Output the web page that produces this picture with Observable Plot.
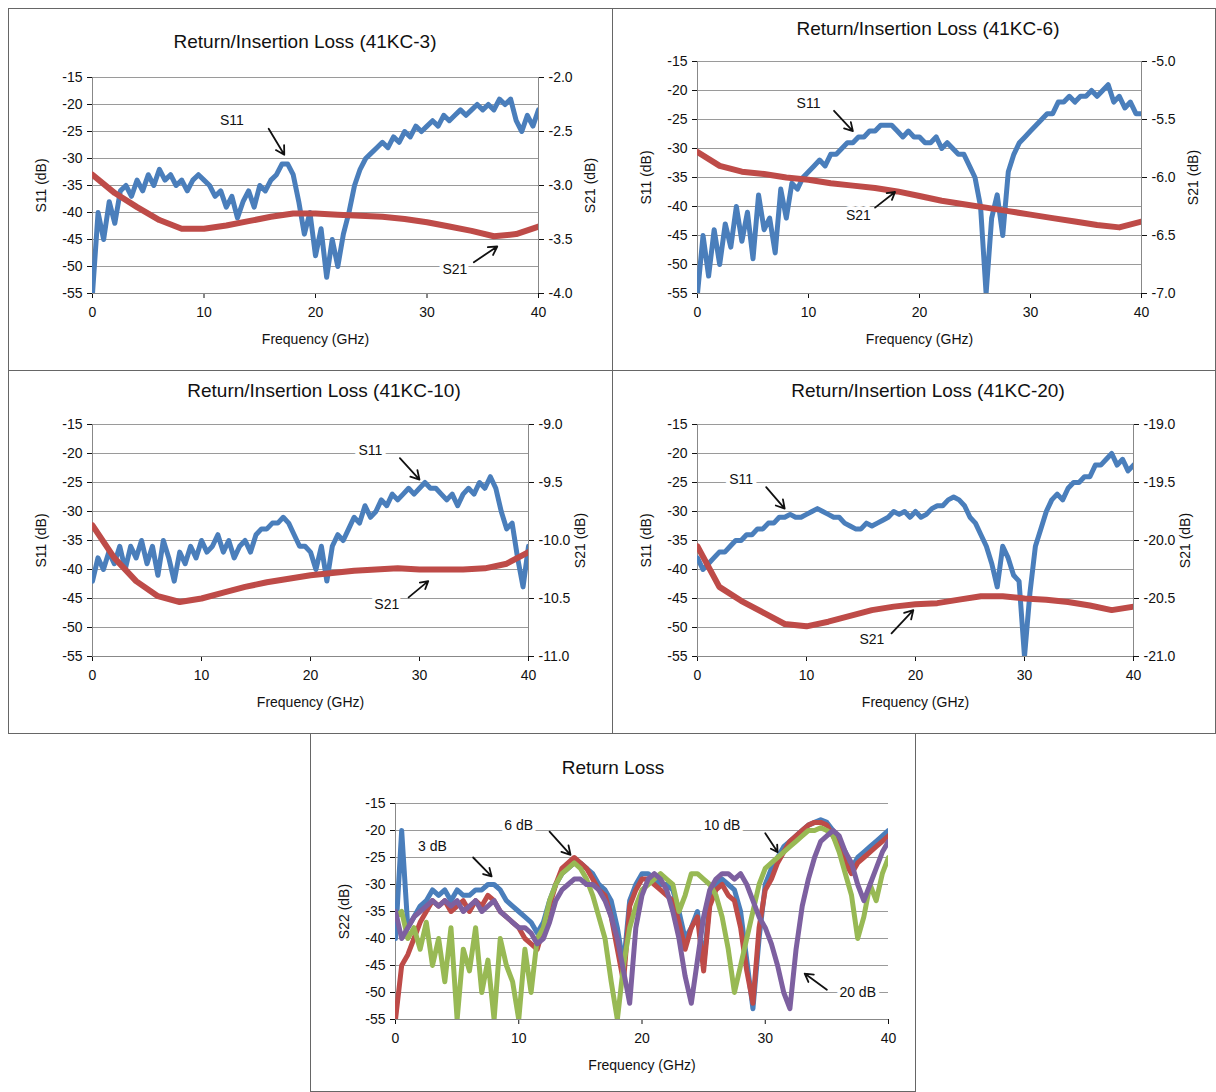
<!DOCTYPE html>
<html><head><meta charset="utf-8">
<script src="https://cdn.jsdelivr.net/npm/d3@7"></script>
<script src="https://cdn.jsdelivr.net/npm/@observablehq/plot@0.6"></script>
<style>
body{margin:0;background:#fff;font-family:"Liberation Sans",Arial,sans-serif;}
#root{position:relative;width:1216px;height:1092px;}
.panel{position:absolute;border:1.5px solid #666;box-sizing:border-box;}
.title{position:absolute;font-size:19px;color:#111;white-space:nowrap;transform:translate(-50%,-50%);}
.chart{position:absolute;}
.chart svg text{font-size:14px;}
</style></head><body><div id="root"></div>
<script>
// frequency grids
const freqFine = d3.range(0, 40.01, 0.5);
const freqCoarse = d3.range(0, 40.01, 2);

// 41KC-3
const s11_3 = [-55,-40,-45,-38,-42,-36,-35,-37,-34,-36,-33,-35,-32,-34,-33,-35,-34,-36,-34,-33,-34,-35,-37,-36,-39,-37,-41,-38,-36,-39,-35,-36,-34,-33,-31,-31,-33,-38,-44,-40,-48,-43,-52,-45,-50,-44,-40,-35,-32,-30,-29,-28,-27,-28,-26,-27,-25,-26,-24,-25,-24,-23,-24,-22,-23,-22,-21,-22,-21,-20,-21,-20,-21,-19,-20,-19,-23,-25,-22,-24,-21];
const s21_3 = [-2.9,-3.07,-3.2,-3.32,-3.4,-3.4,-3.37,-3.33,-3.29,-3.26,-3.26,-3.27,-3.28,-3.29,-3.31,-3.34,-3.38,-3.42,-3.47,-3.45,-3.38];
// 41KC-6
const s11_6 = [-55,-45,-52,-44,-50,-43,-47,-40,-46,-41,-49,-38,-44,-42,-48,-37,-42,-36,-37,-35,-34,-33,-32,-33,-31,-31,-30,-29,-29,-28,-28,-27,-27,-26,-26,-26,-27,-28,-27,-28,-28,-29,-29,-28,-30,-29,-30,-31,-31,-33,-35,-40,-55,-42,-38,-45,-34,-31,-29,-28,-27,-26,-25,-24,-24,-22,-22,-21,-22,-21,-21,-20,-21,-20,-19,-22,-21,-23,-22,-24,-24];
const s21_6 = [-5.78,-5.9,-5.95,-5.97,-6.0,-6.02,-6.05,-6.07,-6.09,-6.12,-6.16,-6.2,-6.23,-6.26,-6.29,-6.32,-6.35,-6.38,-6.41,-6.43,-6.38];
// 41KC-10
const s11_10 = [-42,-38,-40,-37,-39,-36,-40,-36,-38,-35,-39,-36,-41,-35,-38,-42,-37,-39,-36,-38,-35,-37,-36,-34,-37,-35,-38,-36,-35,-37,-34,-33,-33,-32,-32,-31,-32,-34,-36,-36,-37,-40,-36,-42,-36,-34,-35,-33,-31,-32,-29,-31,-30,-28,-29,-27,-28,-27,-26,-27,-26,-25,-26,-26,-27,-28,-27,-29,-27,-26,-27,-25,-26,-24,-26,-30,-33,-32,-38,-43,-36];
const s21_10 = [-9.87,-10.15,-10.35,-10.48,-10.53,-10.5,-10.45,-10.4,-10.36,-10.33,-10.3,-10.28,-10.26,-10.25,-10.24,-10.25,-10.25,-10.25,-10.24,-10.2,-10.1];
// 41KC-20
const s11_20 = [-38,-40,-39,-38,-37,-37,-36,-35,-35,-34,-34,-33,-33,-32,-32,-31,-31,-30.5,-31,-31,-30.5,-30,-29.5,-30,-30.5,-31,-31,-32,-32.5,-33,-33,-32,-32.5,-32,-31.5,-31,-30,-30.5,-30,-31,-30,-31,-30.5,-29.5,-29,-29,-28,-27.5,-28,-29,-31,-32,-34,-36,-39,-43,-36,-38,-41,-42,-55,-44,-36,-33,-30,-28,-27,-28,-26,-25,-25,-24,-24,-22,-22,-21,-20,-22,-21,-23,-22];
const s21_20 = [-20.05,-20.4,-20.52,-20.62,-20.72,-20.74,-20.7,-20.65,-20.6,-20.57,-20.55,-20.54,-20.51,-20.48,-20.48,-20.5,-20.51,-20.53,-20.56,-20.6,-20.57];
// S22 return loss
const s22_3 = [-40,-20,-38,-36,-34,-33,-31,-32,-31,-33,-31,-32,-32,-31,-31,-30,-30,-31,-33,-34,-35,-36,-37,-39,-37,-33,-30,-28,-27,-26,-26,-27,-28,-30,-31,-33,-38,-45,-33,-30,-28,-28,-29,-30,-30,-31,-35,-40,-38,-35,-45,-33,-30,-29,-30,-31,-35,-44,-53,-40,-30,-27,-25,-23,-22,-21,-20,-19,-18.5,-18,-18.5,-20,-22,-24,-27,-25,-24,-23,-22,-21,-20];
const s22_6 = [-55,-45,-43,-40,-37,-35,-33,-34,-33,-35,-34,-33,-35,-33,-34,-32,-33,-35,-36,-37,-38,-40,-41,-42,-38,-34,-30,-27,-26,-25,-26,-27,-29,-31,-32,-36,-42,-48,-34,-31,-29,-29,-30,-31,-32,-33,-37,-42,-38,-36,-46,-34,-31,-30,-32,-33,-38,-46,-52,-38,-31,-29,-26,-24,-22,-21,-20,-19,-18.5,-18.5,-19,-21,-23,-26,-28,-26,-25,-24,-23,-22,-21];
const s22_10 = [-36,-35,-40,-38,-42,-37,-45,-40,-48,-38,-55,-42,-46,-38,-50,-44,-55,-40,-45,-48,-55,-42,-50,-40,-38,-33,-30,-28,-27,-26,-27,-29,-32,-36,-40,-48,-55,-45,-38,-34,-31,-30,-29,-28,-29,-30,-35,-32,-28,-28,-29,-30,-32,-36,-42,-50,-45,-40,-35,-30,-27,-26,-25,-24,-23,-22,-21,-20,-20,-19.5,-20,-21,-24,-28,-32,-40,-36,-30,-33,-28,-25];
const s22_20 = [-35,-40,-38,-36,-35,-34,-33,-34,-33,-34,-33,-35,-34,-33,-35,-34,-33,-35,-36,-37,-38,-38,-39,-41,-40,-37,-33,-31,-30,-29,-29,-30,-30,-31,-33,-36,-40,-46,-52,-38,-32,-29,-28,-29,-31,-35,-40,-47,-52,-44,-36,-31,-29,-28,-28,-29,-28,-30,-33,-36,-38,-41,-45,-50,-53,-42,-34,-29,-25,-22,-21,-20,-21,-24,-26,-30,-33,-30,-27,-24,-22];

const BLUE="#4a7ebb", RED="#be4b48", GREEN="#98b954", PURPLE="#7d60a0";
const root=document.getElementById("root");
function box(l,t,w,h){const d=document.createElement("div");d.className="panel";Object.assign(d.style,{left:l+"px",top:t+"px",width:w+"px",height:h+"px"});root.appendChild(d);}
function title(txt,x,y){const d=document.createElement("div");d.className="title";d.textContent=txt;d.style.left=x+"px";d.style.top=y+"px";root.appendChild(d);}
box(8,8,605,363);box(612,8,604,363);box(8,370,605,364);box(612,370,604,364);box(310,733,606,359);

const fmt=d=>String(d);
function panel(o){
  const ml=70,mr=70,mt=12,mb=60;
  const marks=[
    Plot.ruleY(d3.range(-15,-55.1,-5),{stroke:"#9a9a9a",strokeWidth:1.2}),
    Plot.ruleX([0],{stroke:"#888"}),
    Plot.axisX({ticks:[0,10,20,30,40],tickFormat:fmt,tickSize:5,tickPadding:9,label:"Frequency (GHz)",labelAnchor:"center",labelOffset:50,labelArrow:"none"}),
    Plot.axisY({ticks:d3.range(-15,-55.1,-5),tickFormat:fmt,tickSize:5,tickPadding:5,label:o.ylabel,labelAnchor:"center",labelOffset:56,labelArrow:"none"})
  ];
  if(o.top!==undefined){
    marks.push(Plot.ruleX([40],{stroke:"#888"}));
    marks.push(Plot.axisY({anchor:"right",ticks:[-15,-25,-35,-45,-55],tickFormat:v=>(o.top+(v+15)/20).toFixed(1),tickSize:5,tickPadding:5,label:"S21 (dB)",labelAnchor:"center",labelOffset:56,labelArrow:"none"}));
  }
  marks.push(Plot.ruleY([-55],{stroke:"#888"}));
  for(const s of o.series){
    marks.push(Plot.line(s.x.map((x,i)=>({x,y:s.y[i]})),{x:"x",y:"y",stroke:s.c,strokeWidth:s.w||5,strokeLinejoin:"round",clip:true}));
  }
  for(const a of o.notes){
    marks.push(Plot.text([a],{x:"tx",y:"ty",text:"t",fill:"#111",stroke:"white",strokeWidth:8,paintOrder:"stroke"}));
    marks.push(Plot.arrow([a],{x1:"ax1",y1:"ay1",x2:"ax2",y2:"ay2",stroke:"#111",strokeWidth:1.8,headLength:8}));
  }
  const svg=Plot.plot({width:o.w+ml+mr,height:o.h+mt+mb,marginLeft:ml,marginRight:mr,marginTop:mt,marginBottom:mb,
    style:{fontFamily:"Liberation Sans, Arial, sans-serif",fontSize:"14px",color:"#111",background:"transparent"},
    x:{domain:[0,40]},y:{domain:[-55,-15]},marks});
  const wrap=document.createElement("div");wrap.className="chart";wrap.style.left=(o.x-ml)+"px";wrap.style.top=(o.y-mt)+"px";
  wrap.appendChild(svg);root.appendChild(wrap);
}
const toL=(top,v)=>-15+(v-top)*20;
function dual(s11,s21,top){return [{x:freqFine,y:s11,c:BLUE},{x:freqCoarse,y:s21.map(v=>toL(top,v)),c:RED,w:6}];}
const N=(t,tx,ty,ax1,ay1,ax2,ay2)=>({t,tx,ty,ax1,ay1,ax2,ay2});

title("Return/Insertion Loss (41KC-3)",305,42);
panel({x:92,y:77,w:446,h:216,ylabel:"S11 (dB)",top:-2.0,series:dual(s11_3,s21_3,-2.0),
  notes:[N("S11",12.5,-23,15.8,-24.5,17.2,-29.3),N("S21",32.5,-50.5,34.2,-49.2,36.3,-46.3)]});
title("Return/Insertion Loss (41KC-6)",928,29);
panel({x:697,y:61,w:444,h:232,ylabel:"S11 (dB)",top:-5.0,series:dual(s11_6,s21_6,-5.0),
  notes:[N("S11",10,-22.3,12.3,-23.5,14,-27),N("S21",14.5,-41.5,16,-40.2,17.8,-37.5)]});
title("Return/Insertion Loss (41KC-10)",324,391);
panel({x:92,y:424,w:436,h:232,ylabel:"S11 (dB)",top:-9.0,series:dual(s11_10,s21_10,-9.0),
  notes:[N("S11",25.5,-19.5,28.2,-20.8,30,-24.5),N("S21",27,-46,29,-44.8,30.8,-42)]});
title("Return/Insertion Loss (41KC-20)",928,391);
panel({x:697,y:424,w:436,h:232,ylabel:"S11 (dB)",top:-19.0,series:dual(s11_20,s21_20,-19.0),
  notes:[N("S11",4,-24.5,6.3,-25.8,8,-29.5),N("S21",16,-52,17.8,-51,19.8,-47)]});
title("Return Loss",613,768);
panel({x:395,y:803,w:493,h:216,ylabel:"S22 (dB)",
  series:[{x:freqFine,y:s22_3,c:BLUE},{x:freqFine,y:s22_6,c:RED},{x:freqFine,y:s22_10,c:GREEN},{x:freqFine,y:s22_20,c:PURPLE}],
  notes:[N("3 dB",3,-23,6.3,-25,7.8,-28.5),N("6 dB",10,-19,12.5,-20.2,14.2,-24.5),N("10 dB",26.5,-19,30,-20.5,31,-24),N("20 dB",37.5,-50,35,-49.5,33.2,-46.5)]});
</script></body></html>
